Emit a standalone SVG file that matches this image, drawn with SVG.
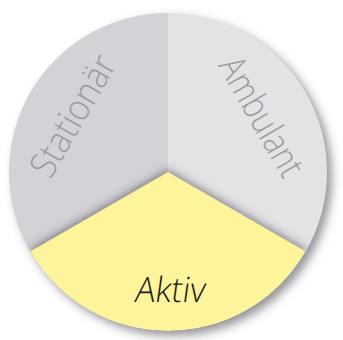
<svg xmlns="http://www.w3.org/2000/svg" width="343" height="340" viewBox="0 0 343 340">
<defs>
<style>
.lbl{font-family:"Open Sans","Liberation Sans",sans-serif;font-weight:300;font-size:37px;fill:#9c9ca0}
.akt{font-family:"Open Sans","Liberation Sans",sans-serif;font-weight:300;font-size:35px;fill:#1c1c1c}
</style>
<clipPath id="circ"><circle cx="168" cy="172" r="159"/></clipPath>
<filter id="outer" x="-20%" y="-20%" width="140%" height="140%">
<feGaussianBlur in="SourceAlpha" stdDeviation="5"/>
<feOffset dx="5" dy="5" result="b"/>
<feFlood flood-color="#40404a" flood-opacity="0.55"/>
<feComposite in2="b" operator="in"/>
</filter>
<filter id="ysh" x="-20%" y="-50%" width="140%" height="200%">
<feDropShadow dx="0" dy="-2" stdDeviation="5" flood-color="#30303a" flood-opacity="0.6"/>
</filter>
</defs>
<rect width="343" height="340" fill="#ffffff"/>
<circle cx="168" cy="172" r="159" fill="#000" filter="url(#outer)"/>
<g id="stationar">
<path d="M168,172 L168,13 A159,159 0 0 0 30.3,251.5 Z" fill="#d3d3d7"/>
</g>
<g id="ambulant">
<path d="M168,172 L168,13 A159,159 0 0 1 305.7,251.5 Z" fill="#e3e3e6"/>
</g>
<g id="aktiv">
<g clip-path="url(#circ)">
<path d="M168,172 L305.7,251.5 A159,159 0 0 1 30.3,251.5 Z" fill="#fef49c" filter="url(#ysh)"/>
</g>
</g>
<g id="connectors"/>
<g id="labels">
<text class="lbl" transform="translate(84,122) rotate(-60)" text-anchor="middle" textLength="134" lengthAdjust="spacingAndGlyphs">Stationär</text>
<text class="lbl" transform="translate(250.5,123) rotate(60)" text-anchor="middle" textLength="132" lengthAdjust="spacingAndGlyphs">Ambulant</text>
<text class="akt" transform="translate(169,302) skewX(-8)" text-anchor="middle" textLength="70" lengthAdjust="spacingAndGlyphs">Aktiv</text>
</g>
</svg>
